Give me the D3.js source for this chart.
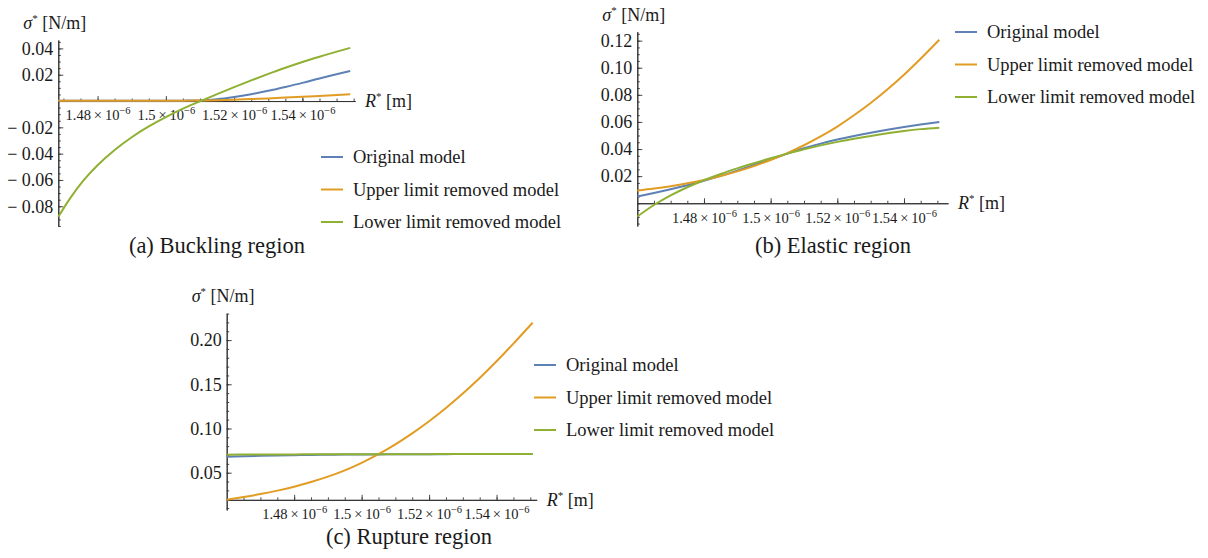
<!DOCTYPE html>
<html>
<head>
<meta charset="utf-8">
<script src="https://cdn.jsdelivr.net/npm/d3@7"></script>
<style>
  body{margin:0;background:#fff;}
  svg text{font-family:"Liberation Serif","Times New Roman",serif;fill:#1a1a1a;}
</style>
</head>
<body>
<svg id="chart" width="1208" height="558"></svg>
<script>
// ---- data (R* in units of 1e-6 m, sigma* in N/m) ----
const seriesNames  = ["Original model","Upper limit removed model","Lower limit removed model"];
const seriesColors = ["#5e81b5","#e19c24","#8fb032"];
const xTickValues  = [1.48,1.50,1.52,1.54];
const captions     = ["(a) Buckling region","(b) Elastic region","(c) Rupture region"];

// (a) buckling
const rBuckling        = [1.4685,1.472,1.476,1.48,1.485,1.49,1.495,1.50,1.505,1.51,1.515,1.52,1.525,1.53,1.535,1.54,1.545,1.554];
const originalBuckling = [0.0002,0.0002,0.0002,0.0002,0.0002,0.0002,0.0002,0.0002,0.0003,0.0005,0.0013,0.0030,0.0052,0.0078,0.0107,0.0138,0.0172,0.0228];
const upperBuckling    = [0.0003,0.0003,0.0003,0.0003,0.0003,0.0003,0.0003,0.0003,0.0003,0.0004,0.0006,0.0010,0.0015,0.0020,0.0026,0.0032,0.0039,0.0051];
const lowerBuckling    = [-0.088,-0.0738,-0.0600,-0.0488,-0.0372,-0.0275,-0.0193,-0.0122,-0.0058,-0.0002,0.0053,0.0106,0.0157,0.0206,0.0253,0.0297,0.0337,0.0404];
const yTicksBuckling   = [-0.08,-0.06,-0.04,-0.02,0.02,0.04];

// (b) elastic
const rElastic        = [1.46,1.465,1.47,1.475,1.48,1.485,1.49,1.495,1.50,1.505,1.51,1.515,1.52,1.525,1.53,1.535,1.54,1.545,1.5506];
const originalElastic = [0.0049,0.0075,0.0103,0.0133,0.0166,0.0202,0.0241,0.0282,0.0324,0.0366,0.0406,0.0440,0.0470,0.0497,0.0521,0.0543,0.0563,0.0581,0.0600];
const upperElastic    = [0.0093,0.0108,0.0126,0.0147,0.0172,0.0201,0.0235,0.0274,0.0319,0.0370,0.0428,0.0493,0.0566,0.0649,0.0740,0.0840,0.0949,0.1067,0.1207];
const lowerElastic    = [-0.0098,-0.0013,0.0058,0.0118,0.0170,0.0216,0.0257,0.0295,0.0332,0.0366,0.0398,0.0427,0.0453,0.0476,0.0497,0.0516,0.0533,0.0547,0.0558];
const yTicksElastic   = [0.02,0.04,0.06,0.08,0.10,0.12];

// (c) rupture
const rRupture        = [1.46,1.465,1.47,1.475,1.48,1.485,1.49,1.495,1.50,1.505,1.51,1.515,1.52,1.525,1.53,1.535,1.54,1.545,1.5507];
const originalRupture = [0.0680,0.0686,0.0691,0.0695,0.0698,0.0701,0.0703,0.0705,0.0706,0.0707,0.0708,0.0709,0.0710,0.0710,0.0711,0.0711,0.0712,0.0712,0.0712];
const upperRupture    = [0.0193,0.0224,0.0258,0.0297,0.0342,0.0394,0.0455,0.0527,0.0612,0.0710,0.0821,0.0945,0.1082,0.1232,0.1395,0.1571,0.1760,0.1960,0.2197];
const lowerRupture    = [0.0704,0.0705,0.0706,0.0707,0.0707,0.0708,0.0708,0.0709,0.0709,0.0709,0.0710,0.0710,0.0710,0.0711,0.0711,0.0711,0.0712,0.0712,0.0712];
const yTicksRupture   = [0.05,0.10,0.15,0.20];

// ---- layout ----
const panels = [
  {r:rBuckling, ys:[originalBuckling,upperBuckling,lowerBuckling], yTicks:yTicksBuckling,
   xDomain:[1.4685,1.5554], xRange:[58.3,355], yDomain:[-0.095,0.0464], yRange:[226,40],
   origin:0, yMinor:0.005, legend:[321,157], caption:[217,253], caption_i:0},
  {r:rElastic, ys:[originalElastic,upperElastic,lowerElastic], yTicks:yTicksElastic,
   xDomain:[1.46,1.5532], xRange:[637.3,948], yDomain:[-0.0168,0.1266], yRange:[226,31.7],
   origin:0, yMinor:0.005, legend:[955,32], caption:[833,253], caption_i:1},
  {r:rRupture, ys:[originalRupture,upperRupture,lowerRupture], yTicks:yTicksRupture,
   xDomain:[1.46,1.5519], xRange:[226.7,536.7], yDomain:[0.0078,0.2303], yRange:[510,313.3],
   origin:0.0193, yMinor:0.01, legend:[534,365], caption:[409,544], caption_i:2}
];

const svg = d3.select("#chart");
const axisColor = "#333";

function minorTicks(domain, step){
  return d3.range(Math.ceil(domain[0]/step - 1e-6), Math.floor(domain[1]/step + 1e-6)+1).map(i => +(i*step).toFixed(5));
}

function styleAxis(g){
  g.select(".domain").attr("stroke",axisColor).attr("stroke-width",1);
  g.selectAll(".tick line").attr("stroke",axisColor).attr("stroke-width",0.9);
}

function drawPanel(p){
  const g = svg.append("g");
  const x = d3.scaleLinear().domain(p.xDomain).range(p.xRange);
  const y = d3.scaleLinear().domain(p.yDomain).range(p.yRange);
  const y0 = y(p.origin);
  const x0 = p.xRange[0];

  // x minor ticks
  g.append("g").attr("transform",`translate(0,${y0})`)
    .call(d3.axisBottom(x).tickValues(minorTicks(p.xDomain,0.005).filter(v=>v>p.xDomain[0]+0.001))
      .tickSizeInner(-2.5).tickSizeOuter(0).tickFormat(""))
    .call(styleAxis);
  // x major ticks
  const gx = g.append("g").attr("transform",`translate(0,${y0})`)
    .call(d3.axisBottom(x).tickValues(xTickValues).tickSizeInner(-5).tickSizeOuter(0)
      .tickPadding(9).tickFormat(""))
    .call(styleAxis);
  gx.selectAll(".tick text").each(function(d){
    const t = d3.select(this).attr("font-size",14.5).attr("fill","#1a1a1a");
    t.append("tspan").text(String(+d.toFixed(2)) + "\u2009\u00d7\u200910");
    t.append("tspan").attr("dy",-6).attr("font-size",10.5).text("\u22126");
  });

  // y minor ticks
  g.append("g").attr("transform",`translate(${x0},0)`)
    .call(d3.axisLeft(y).tickValues(minorTicks(p.yDomain,p.yMinor))
      .tickSizeInner(-2.5).tickSizeOuter(0).tickFormat(""))
    .call(styleAxis);
  // y major ticks
  g.append("g").attr("transform",`translate(${x0},0)`)
    .call(d3.axisLeft(y).tickValues(p.yTicks).tickSizeInner(-5).tickSizeOuter(0).tickPadding(5)
      .tickFormat(v => { const s = d3.format(".2f")(Math.abs(v)); return v < 0 ? "\u2212 " + s : s; }))
    .call(styleAxis)
    .call(a => a.selectAll(".tick text").attr("font-size",18).attr("fill","#1a1a1a").attr("font-family",null));

  // y title
  const yt = g.append("text").attr("x",x0-35).attr("y",p.yRange[1]-11).attr("font-size",18);
  yt.append("tspan").attr("font-style","italic").text("\u03c3");
  yt.append("tspan").attr("dy",-7).attr("font-size",11).text("*");
  yt.append("tspan").attr("dy",7).text(" [N/m]");

  // x title
  const xt = g.append("text").attr("x",p.xRange[1]+10).attr("y",y0+6).attr("font-size",18);
  xt.append("tspan").attr("font-style","italic").text("R");
  xt.append("tspan").attr("dy",-7).attr("font-size",11).text("*");
  xt.append("tspan").attr("dy",7).text(" [m]");

  // curves
  const line = d3.line().x(d => x(d[0])).y(d => y(d[1])).curve(d3.curveMonotoneX);
  p.ys.forEach((vals,i) => {
    g.append("path")
      .datum(p.r.map((r,k) => [r, vals[k]]))
      .attr("fill","none")
      .attr("stroke",seriesColors[i])
      .attr("stroke-width",2)
      .attr("d",line);
  });

  // legend
  seriesNames.forEach((name,i) => {
    const ly = p.legend[1] + i*32.5;
    g.append("line").attr("x1",p.legend[0]).attr("x2",p.legend[0]+22)
      .attr("y1",ly).attr("y2",ly).attr("stroke",seriesColors[i]).attr("stroke-width",2);
    g.append("text").attr("x",p.legend[0]+32).attr("y",ly+6).attr("font-size",18.5).text(name);
  });

  // caption
  g.append("text").attr("x",p.caption[0]).attr("y",p.caption[1]).attr("text-anchor","middle")
    .attr("font-size",22.5).text(captions[p.caption_i]);
}

panels.forEach(drawPanel);
</script>
</body>
</html>
